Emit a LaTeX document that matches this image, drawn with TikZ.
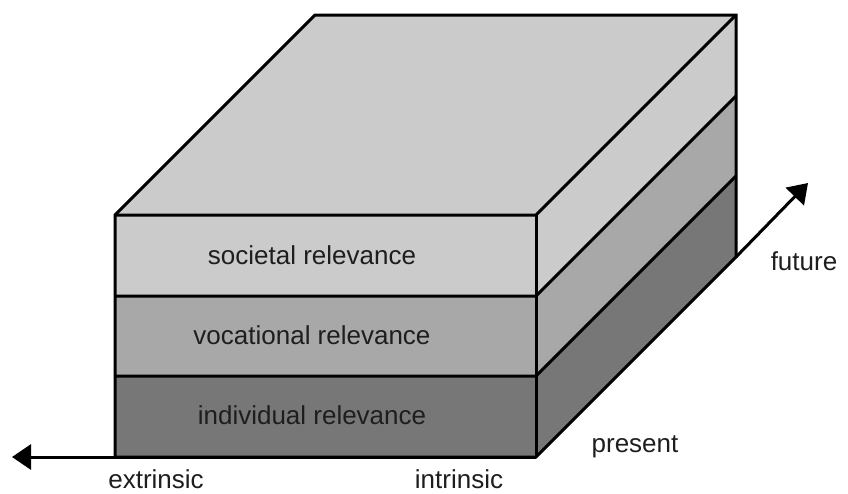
\documentclass[tikz,border=0pt]{standalone}
\usepackage{fontspec}
\setmainfont{Liberation Sans}
\usetikzlibrary{arrows.meta}
\definecolor{layerlight}{HTML}{CBCBCB}
\definecolor{layermid}{HTML}{A8A8A8}
\definecolor{layerdark}{HTML}{777777}
\definecolor{textcol}{HTML}{1E1E1E}
\tikzset{
  face/.style={draw=black, line width=3pt, line join=miter},
  lbl/.style={font=\fontsize{26}{30}\selectfont, text=textcol, inner sep=0pt, anchor=base},
  axis/.style={line width=3pt, -{Triangle[length=19pt,width=25pt]}}
}
\begin{document}
\begin{tikzpicture}[x=1pt,y=-1pt]
\useasboundingbox (0,0) rectangle (848,493);
% front corners
\coordinate (fTL) at (115,215);
\coordinate (fTR) at (536,215);
\coordinate (fM1L) at (115,296);
\coordinate (fM1R) at (536,296);
\coordinate (fM2L) at (115,376);
\coordinate (fM2R) at (536,376);
\coordinate (fBL) at (115,457);
\coordinate (fBR) at (536,457);
% back corners
\coordinate (bTL) at (315,15);
\coordinate (bTR) at (736,15);
\coordinate (bM1R) at (736,96);
\coordinate (bM2R) at (736,176);
\coordinate (bBR) at (736,257);
% arrow ends
\coordinate (leftTip) at (12,457);
\coordinate (futTip) at (808,183);
% top face
\fill[layerlight] (fTL) -- (bTL) -- (bTR) -- (fTR) -- cycle;
% front layers
\fill[layerlight] (fTL) rectangle (fM1R);
\fill[layermid] (fM1L) rectangle (fM2R);
\fill[layerdark] (fM2L) rectangle (fBR);
% right layers
\fill[layerlight] (fTR) -- (bTR) -- (bM1R) -- (fM1R) -- cycle;
\fill[layermid] (fM1R) -- (bM1R) -- (bM2R) -- (fM2R) -- cycle;
\fill[layerdark] (fM2R) -- (bM2R) -- (bBR) -- (fBR) -- cycle;
% outlines
\draw[face] (fBL) -- (fTL) -- (bTL) -- (bTR) -- (bBR) -- (fBR) -- cycle;
\draw[face] (fTL) -- (fTR) -- (bTR);
\draw[face] (fTR) -- (fBR);
\draw[face] (fM1L) -- (fM1R) -- (bM1R);
\draw[face] (fM2L) -- (fM2R) -- (bM2R);
% axes
\draw[axis] (fBR) -- (leftTip);
\draw[axis] (bBR) -- (futTip);
% layer labels
\node[lbl] (soc) at (312,264) {societal relevance};
\node[lbl] (voc) at (312,344) {vocational relevance};
\node[lbl] (ind) at (312,424) {individual relevance};
% axis labels
\node[lbl] (ext) at (156,488) {extrinsic};
\node[lbl] (intr) at (459,488) {intrinsic};
\node[lbl] (pres) at (635,452) {present};
\node[lbl] (fut) at (804,270) {future};
\end{tikzpicture}
\end{document}
